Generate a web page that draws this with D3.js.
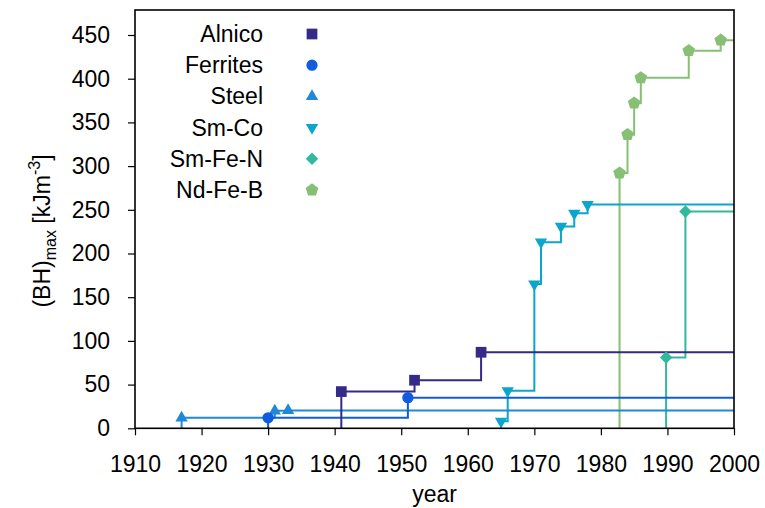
<!DOCTYPE html>
<html>
<head>
<meta charset="utf-8">
<script src="https://cdn.jsdelivr.net/npm/d3@7"></script>
<style>
  html, body { margin: 0; padding: 0; background: #fff; }
  svg { display: block; font-family: "Liberation Sans", Arial, sans-serif; }
</style>
</head>
<body>
<svg id="chart" width="765" height="508"></svg>
<script>
// Record (BH)max of permanent-magnet families over time, kJ/m^3
const seriesNames = ["Alnico", "Ferrites", "Steel", "Sm-Co", "Sm-Fe-N", "Nd-Fe-B"];
const seriesColors = ["#352a87", "#0f5cdd", "#1f88d9", "#0aa6cc", "#30b99d", "#87c074"];
const seriesSymbols = ["square", "circle", "triangleUp", "triangleDown", "diamond", "pentagon"];

const alnicoYears = [1941, 1952, 1962];
const alnicoValues = [42, 55, 87];
const ferriteYears = [1930, 1951];
const ferriteValues = [12, 35];
const steelYears = [1917, 1931, 1933];
const steelValues = [12, 20, 20.5];
const smCoYears = [1965, 1966, 1970, 1971, 1974, 1976, 1978];
const smCoValues = [8, 43, 165, 213, 231, 246, 256];
const smFeNYears = [1989.8, 1992.7];
const smFeNValues = [81, 248];
const ndFeBYears = [1982.8, 1984, 1985, 1986, 1993.2, 1998];
const ndFeBValues = [292, 336, 372, 401, 432, 444];

const xTicks = [1910, 1920, 1930, 1940, 1950, 1960, 1970, 1980, 1990, 2000];
const yTicks = [0, 50, 100, 150, 200, 250, 300, 350, 400, 450];

const seriesYears = [alnicoYears, ferriteYears, steelYears, smCoYears, smFeNYears, ndFeBYears];
const seriesValues = [alnicoValues, ferriteValues, steelValues, smCoValues, smFeNValues, ndFeBValues];

const svg = d3.select("#chart");
const plotLeft = 135, plotRight = 734, plotTop = 10, plotBottom = 428.3;
const fontSize = 23;

const x = d3.scaleLinear().domain([1910, 2000]).range([plotLeft, plotRight]);
const y = d3.scaleLinear().domain([0, 450]).range([plotBottom, 35]);

// five-pointed polygon symbol
const symbolPentagon = {
  draw(ctx, size) {
    const r = Math.sqrt(size / 2.3776);
    for (let i = 0; i < 5; i++) {
      const a = -Math.PI / 2 + i * 2 * Math.PI / 5;
      const px = r * Math.cos(a), py = r * Math.sin(a);
      if (i === 0) ctx.moveTo(px, py); else ctx.lineTo(px, py);
    }
    ctx.closePath();
  }
};
const symbolTriangleDown = {
  draw(ctx, size) {
    const h = Math.sqrt(size / (Math.sqrt(3) * 3));
    ctx.moveTo(0, 2 * h);
    ctx.lineTo(-Math.sqrt(3) * h, -h);
    ctx.lineTo(Math.sqrt(3) * h, -h);
    ctx.closePath();
  }
};
// square turned 45 degrees
const symbolRhombus = {
  draw(ctx, size) {
    const r = Math.sqrt(size / 2);
    ctx.moveTo(0, -r);
    ctx.lineTo(r, 0);
    ctx.lineTo(0, r);
    ctx.lineTo(-r, 0);
    ctx.closePath();
  }
};
const symbolTypes = {
  square: d3.symbolSquare,
  circle: d3.symbolCircle,
  triangleUp: d3.symbolTriangle,
  triangleDown: symbolTriangleDown,
  diamond: symbolRhombus,
  pentagon: symbolPentagon
};
const symbolSizes = { square: 115, circle: 100, triangleUp: 66, triangleDown: 66, diamond: 78, pentagon: 105 };

const stepLine = d3.line()
  .x(d => x(d[0]))
  .y(d => y(d[1]))
  .curve(d3.curveStepAfter);

const plot = svg.append("g");

// draw the later families first so the older ones sit on top
for (let s = seriesNames.length - 1; s >= 0; s--) {
  const yrs = seriesYears[s], vals = seriesValues[s];
  const pts = [[yrs[0], 0]];
  yrs.forEach((yr, i) => pts.push([yr, vals[i]]));
  pts.push([2000, vals[vals.length - 1]]);
  plot.append("path")
    .attr("d", stepLine(pts))
    .attr("fill", "none")
    .attr("stroke", seriesColors[s])
    .attr("stroke-width", 2);
}
for (let s = seriesNames.length - 1; s >= 0; s--) {
  const yrs = seriesYears[s], vals = seriesValues[s];
  const sym = seriesSymbols[s];
  plot.selectAll(null)
    .data(yrs.map((yr, i) => [yr, vals[i]]))
    .enter().append("path")
    .attr("transform", d => `translate(${x(d[0])},${y(d[1])})`)
    .attr("d", d3.symbol().type(symbolTypes[sym]).size(symbolSizes[sym]))
    .attr("fill", seriesColors[s]);
}

// frame
svg.append("rect")
  .attr("x", plotLeft).attr("y", plotTop)
  .attr("width", plotRight - plotLeft).attr("height", plotBottom - plotTop)
  .attr("fill", "none").attr("stroke", "#000").attr("stroke-width", 1.6);

// axes
const xAxis = d3.axisBottom(x).tickValues(xTicks).tickFormat(d3.format("d")).tickSizeOuter(0).tickSize(7).tickPadding(20);
const gx = svg.append("g").attr("transform", `translate(0,${plotBottom})`).call(xAxis);
const yAxis = d3.axisLeft(y).tickValues(yTicks).tickFormat(d3.format("d")).tickSizeOuter(0).tickSize(7).tickPadding(18);
const gy = svg.append("g").attr("transform", `translate(${plotLeft},0)`).call(yAxis);
[gx, gy].forEach(g => {
  g.select(".domain").remove();
  g.selectAll(".tick line").attr("stroke", "#000").attr("stroke-width", 1.2);
  g.selectAll(".tick text").attr("font-size", fontSize).attr("fill", "#000")
    .attr("font-family", "Liberation Sans, Arial, sans-serif");
});

// axis titles
svg.append("text")
  .attr("x", (plotLeft + plotRight) / 2).attr("y", 502)
  .attr("text-anchor", "middle").attr("font-size", fontSize).attr("fill", "#000")
  .text("year");

const yl = svg.append("text")
  .attr("transform", `translate(50,231) rotate(-90)`)
  .attr("text-anchor", "middle").attr("font-size", fontSize).attr("fill", "#000");
yl.append("tspan").text("(BH)");
yl.append("tspan").attr("font-size", 16).attr("dy", 6).text("max");
yl.append("tspan").attr("dy", -6).text(" [kJm");
yl.append("tspan").attr("font-size", 16).attr("dy", -10).text("-3");
yl.append("tspan").attr("dy", 10).text("]");

// legend
const legend = svg.append("g");
seriesNames.forEach((name, i) => {
  const ly = 34 + i * 31.2;
  legend.append("text")
    .attr("x", 263).attr("y", ly + 8)
    .attr("text-anchor", "end").attr("font-size", fontSize).attr("fill", "#000")
    .text(name);
  const sym = seriesSymbols[i];
  legend.append("path")
    .attr("transform", `translate(312,${ly})`)
    .attr("d", d3.symbol().type(symbolTypes[sym]).size(symbolSizes[sym]))
    .attr("fill", seriesColors[i]);
});
</script>
</body>
</html>
